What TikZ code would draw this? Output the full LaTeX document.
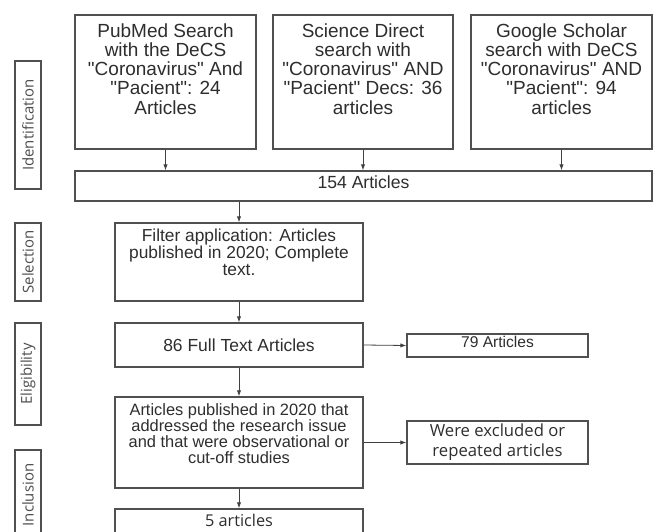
\documentclass[tikz,border=0pt]{standalone}
\usepackage{fontspec}
\newfontfamily\lib{Liberation Sans}
\newfontfamily\osans{Open Sans}
\usetikzlibrary{arrows.meta}
\definecolor{ln}{HTML}{505050}
\definecolor{tx}{HTML}{2E2E2E}
\newcommand{\tbox}[4]{\parbox[c][#2][t]{#1}{\centering\vspace*{#3}#4\par}}
\begin{document}
\begin{tikzpicture}[x=0.75pt,y=-0.75pt,
  box/.style={draw=ln,line width=0.9pt,inner sep=0pt,text=tx},
  side/.style={box,rotate=90,minimum height=19.5pt,text=tx!85!white,font=\osans\fontsize{11.2}{13}\selectfont},
  arr/.style={draw=ln!80!black,line width=0.6pt,-{Latex[length=4.5pt,width=3.2pt]}}]
\useasboundingbox (0,0) rectangle (658,532);
\clip (0,0) rectangle (658,532);
\fill[white] (0,0) rectangle (658,532);

% side labels
\node[side,minimum width=96pt] (ident) at (28,125) {Identification};
\node[side,minimum width=58.5pt] (sel) at (28,262) {Selection};
\node[side,minimum width=76.5pt] (elig) at (28,374) {Eligibility\hspace{9pt}};
\node[side,minimum width=67.5pt] (incl) at (28,495) {Inclusion};

% top boxes
\node[box,font=\lib\fontsize{14.25}{14.4}\selectfont] (pub) at (165.5,82)
  {\tbox{135.75pt}{100.5pt}{6.4pt}{PubMed Search\\with the DeCS\\"Coronavirus" And\\"Pacient": 24\\Articles}};
\node[box,font=\lib\fontsize{14.25}{14.4}\selectfont] (sci) at (363,82)
  {\tbox{135pt}{100.5pt}{6.4pt}{Science Direct\\search with\\"Coronavirus" AND\\"Pacient" Decs: 36\\articles}};
\node[box,font=\lib\fontsize{14.25}{14.4}\selectfont] (goo) at (561.5,82)
  {\tbox{135.75pt}{100.5pt}{6.4pt}{Google Scholar\\search with DeCS\\"Coronavirus" AND\\"Pacient": 94\\articles}};

\node[box,minimum width=432.75pt,minimum height=22.5pt,text height=3pt,text depth=0pt,font=\lib\fontsize{13.2}{14}\selectfont] (a154) at (363.5,186)
  {154 Articles};

\node[box,font=\lib\fontsize{13}{12.75}\selectfont] (filt) at (239,262)
  {\tbox{186pt}{58.5pt}{4.8pt}{Filter application: Articles\\published in 2020; Complete\\text.}};

\node[box,minimum width=186pt,minimum height=33pt,font=\lib\fontsize{13.1}{13}\selectfont] (n86) at (239,345)
  {86 Full Text Articles};

\node[box,minimum width=135.75pt,minimum height=17.25pt,text height=2.25pt,text depth=0pt,font=\lib\fontsize{11.7}{12}\selectfont] (n79) at (497.5,345.5)
  {79 Articles};

\node[box,font=\lib\fontsize{12.3}{11.8}\selectfont] (apub) at (239,442.5)
  {\tbox{186pt}{68.25pt}{5.2pt}{Articles published in 2020 that\\addressed the research issue\\and that were observational or\\cut-off studies}};

\node[box,minimum width=135.75pt,minimum height=32.25pt,align=center,font=\osans\fontsize{12.5}{15}\selectfont] (were) at (497.5,442.5)
  {Were excluded or\\repeated articles};

\node[box,minimum width=186pt,minimum height=33pt,text height=0pt,text depth=7.5pt,font=\osans\fontsize{12.2}{13}\selectfont] (five) at (239,531)
  {5 articles};

% connectors
\draw[arr] (pub.south) -- (pub.south |- a154.north);
\draw[arr] (sci.south) -- (sci.south |- a154.north);
\draw[arr] (goo.south) -- (goo.south |- a154.north);
\draw[arr] (a154.south -| filt.north) -- (filt.north);
\draw[arr] (filt.south) -- (n86.north);
\draw[arr] (n86.east) -- (n79.west);
\draw[arr] (n86.south) -- (apub.north);
\draw[arr] (apub.east) -- (were.west);
\draw[arr] (apub.south) -- (five.north);
\end{tikzpicture}
\end{document}
